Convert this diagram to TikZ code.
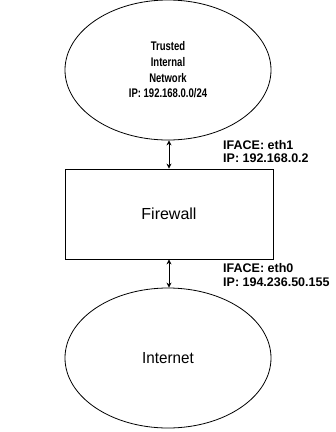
\documentclass[tikz,border=0pt]{standalone}
\usepackage{fontspec}
\setmainfont{Liberation Sans}
\usetikzlibrary{arrows.meta,shapes.geometric}
\begin{document}
\begin{tikzpicture}[x=1pt,y=-1pt,
  netshape/.style={draw,ellipse,line width=0.8pt,minimum width=206pt,minimum height=140pt,inner sep=0pt},
  boxshape/.style={draw,rectangle,line width=0.8pt,minimum width=208pt,minimum height=90pt,inner sep=0pt},
  ifacelabel/.style={anchor=west,inner sep=0pt,align=left,font=\bfseries\fontsize{12.5}{13.5}\selectfont},
  link/.style={{Stealth[length=5pt,width=5pt]}-{Stealth[length=5pt,width=5pt]},line width=0.8pt}]
\useasboundingbox (0,0) rectangle (336,432);
\node[netshape] (trusted) at (168,70) {\scalebox{0.76}[1]{\parbox{140pt}{\centering\bfseries\fontsize{12.5}{15.7}\selectfont Trusted\\Internal\\Network\\IP: 192.168.0.0/24}}};
\node[boxshape] (fw) at (169,214) {\fontsize{16}{18}\selectfont Firewall};
\node[netshape] (inet) at (168,358) {\scalebox{0.95}[1]{\fontsize{16}{18}\selectfont Internet}};
\draw[link] (trusted.south -| fw.north) -- (fw.north);
\draw[link] (fw.south) -- (inet.north -| fw.south);
\node[ifacelabel] (l1) at (223,151.5) {IFACE: eth1\\IP: 192.168.0.2};
\node[ifacelabel] (l0) at (223,275) {IFACE: eth0\\IP: 194.236.50.155};
\end{tikzpicture}
\end{document}
